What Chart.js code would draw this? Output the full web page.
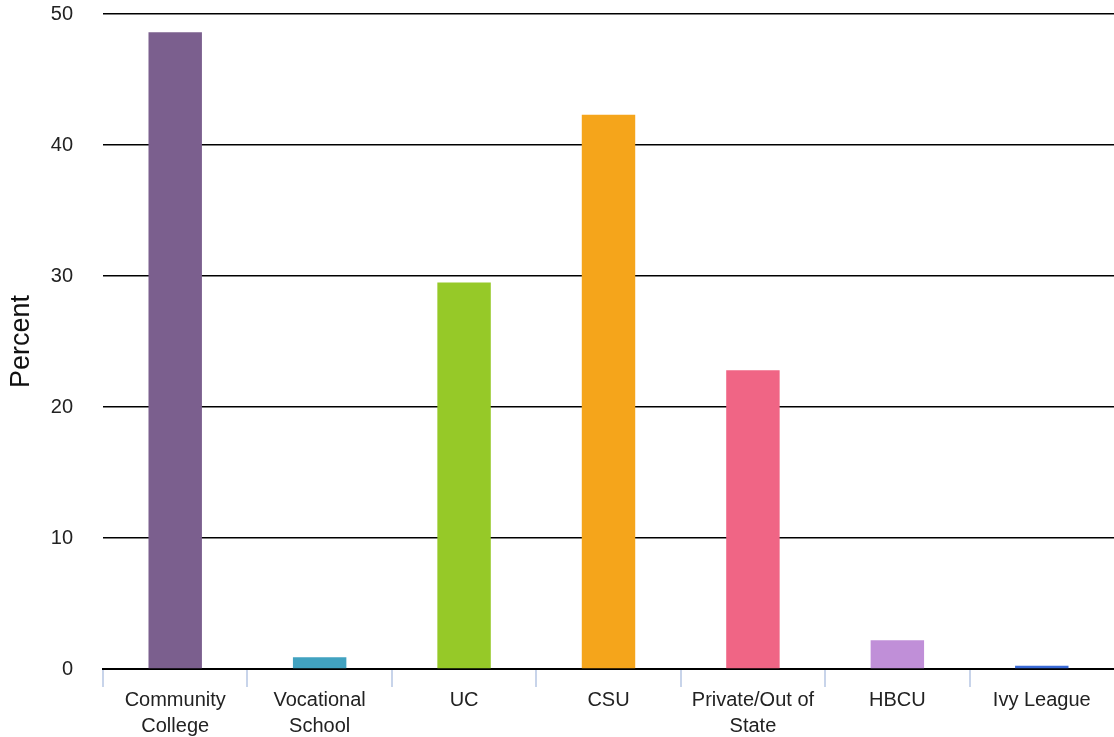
<!DOCTYPE html>
<html>
<head>
<meta charset="utf-8">
<script src="https://cdn.jsdelivr.net/npm/chart.js@4/dist/chart.umd.min.js"></script>
<style>
  html, body { margin: 0; padding: 0; background: #fff; overflow: hidden; }
  canvas { display: block; }
</style>
</head>
<body>
<canvas id="chart" width="1114" height="737"></canvas>
<script>
  const categories = [
    ['Community', 'College'],
    ['Vocational', 'School'],
    'UC',
    'CSU',
    ['Private/Out of', 'State'],
    'HBCU',
    'Ivy League'
  ];
  const percents = [48.6, 0.9, 29.5, 42.3, 22.8, 2.2, 0.25];
  const barColors = ['#7b5f8e', '#41a2c0', '#96c928', '#f5a51b', '#f06585', '#c08fd8', '#3a6ad6'];
  const yTicks = [0, 10, 20, 30, 40, 50];

  const fontFamily = '"Liberation Sans", Arial, Helvetica, sans-serif';

  new Chart(document.getElementById('chart'), {
    type: 'bar',
    data: {
      labels: categories,
      datasets: [{
        label: 'Percent',
        data: percents,
        backgroundColor: barColors,
        borderWidth: 0,
        barPercentage: 0.37,
        categoryPercentage: 1.0
      }]
    },
    options: {
      responsive: false,
      devicePixelRatio: 1,
      animation: false,
      layout: { padding: 0 },
      plugins: {
        legend: { display: false },
        tooltip: { enabled: false }
      },
      scales: {
        x: {
          offset: true,
          border: { display: true, color: '#000', width: 2 },
          grid: {
            offset: true,
            drawOnChartArea: false,
            drawTicks: true,
            tickLength: 18,
            // the closing tick past the last category sits on the canvas edge; leave it out
            color: (ctx) => ctx.index === undefined ? 'rgba(0,0,0,0)' : '#c8d4ea',
            lineWidth: 2
          },
          ticks: {
            color: '#222',
            font: { family: fontFamily, size: 20, lineHeight: 1.33 },
            padding: 0,
            maxRotation: 0,
            autoSkip: false
          },
          afterFit: (axis) => {
            axis.height = 68;
            axis.paddingLeft = 0;
            axis.paddingRight = 0;
          }
        },
        y: {
          min: 0,
          max: 50,
          afterBuildTicks: (axis) => { axis.ticks = yTicks.map(v => ({ value: v })); },
          border: { display: false },
          grid: {
            color: '#000',
            lineWidth: 1.5,
            drawTicks: false
          },
          ticks: {
            color: '#222',
            font: { family: fontFamily, size: 20 },
            padding: 30
          },
          title: {
            display: true,
            text: 'Percent',
            color: '#111',
            font: { family: fontFamily, size: 27 },
            padding: { top: 5, bottom: 0 }
          },
          afterFit: (axis) => {
            axis.width = 103;
            axis.paddingTop = 14;
            axis.paddingBottom = 12;
          }
        }
      }
    }
  });
</script>
</body>
</html>
